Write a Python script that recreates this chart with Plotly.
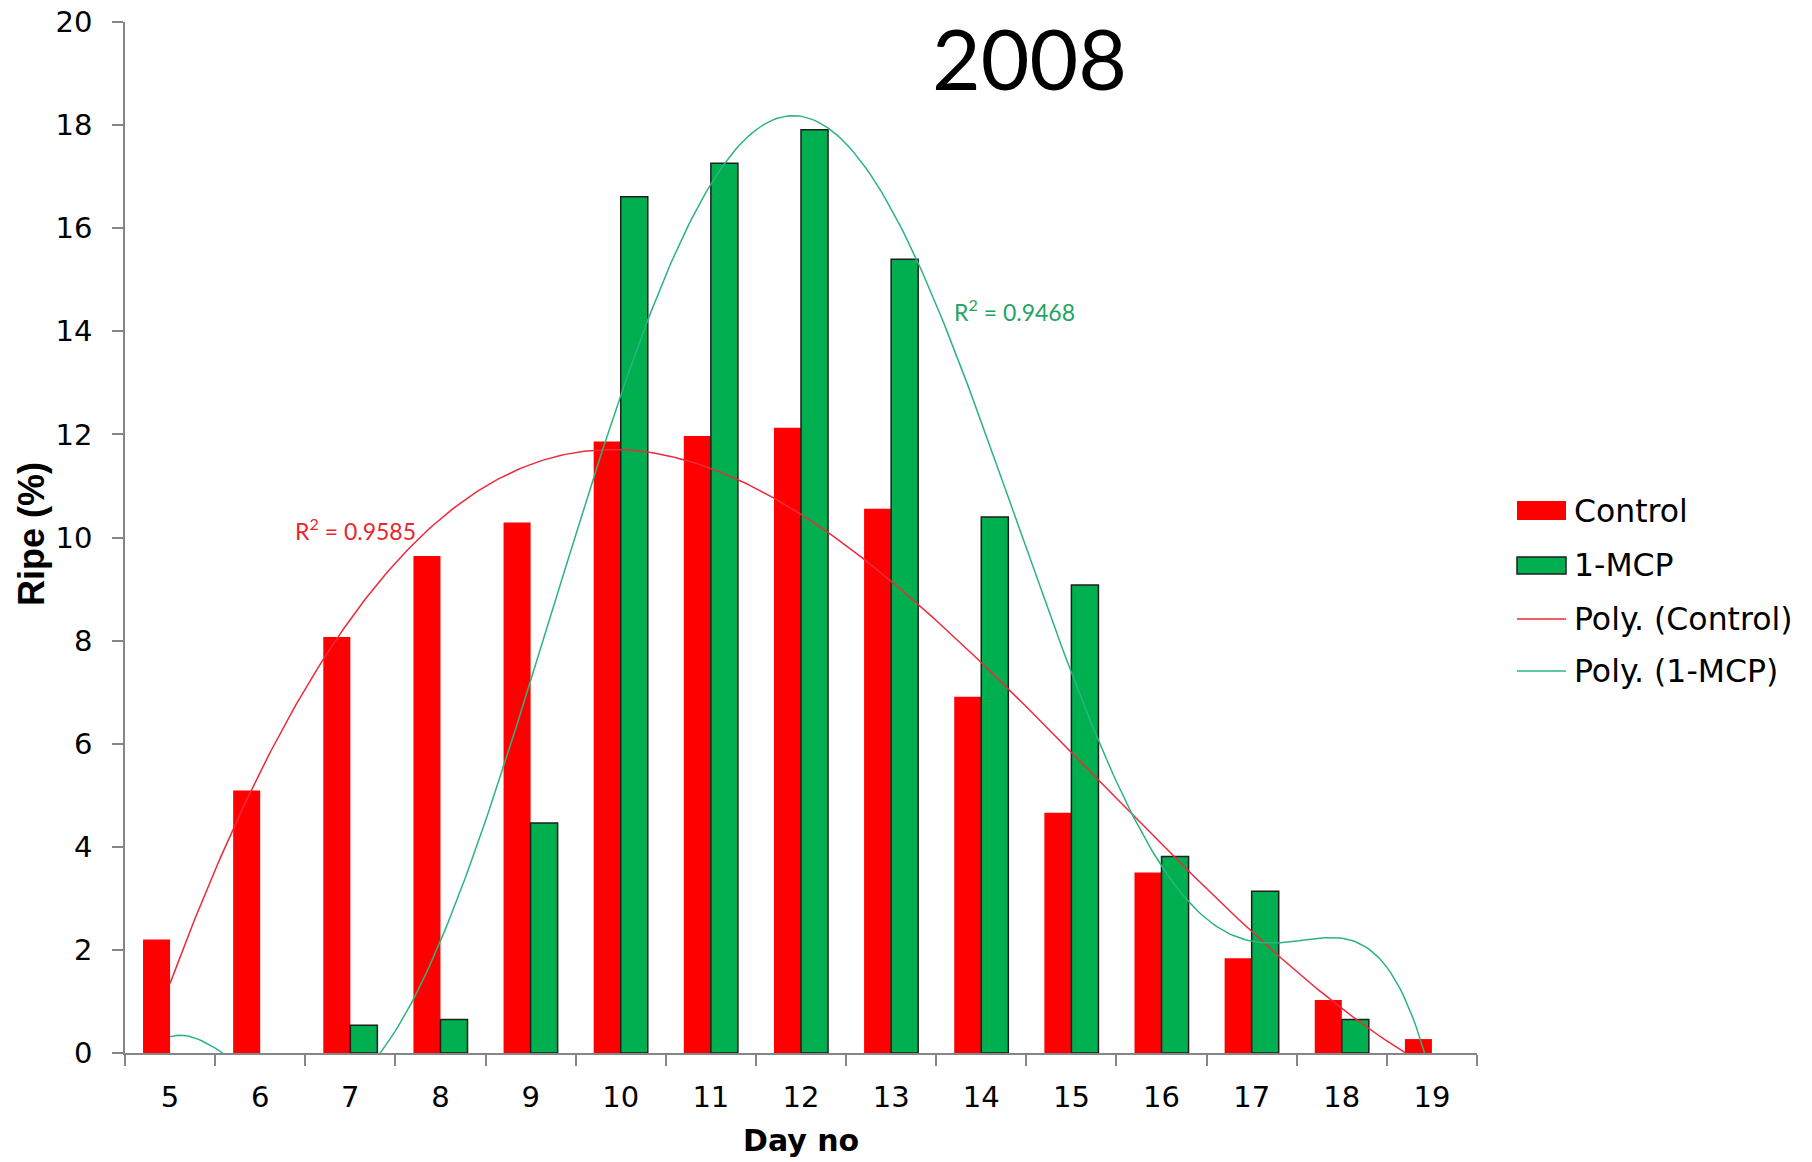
import numpy as np
import plotly.graph_objects as go

# Ripening data, 2008 season
days = [5, 6, 7, 8, 9, 10, 11, 12, 13, 14, 15, 16, 17, 18, 19]
control = [2.20, 5.09, 8.07, 9.64, 10.29, 11.86, 11.97, 12.13, 10.56, 6.91, 4.66, 3.50, 1.84, 1.03, 0.27]
mcp = [0.0, 0.0, 0.54, 0.65, 4.46, 16.61, 17.26, 17.91, 15.40, 10.40, 9.08, 3.81, 3.14, 0.65, 0.0]
r2_control = "0.9585"
r2_mcp = "0.9468"
title_text = "2008"

RED = "#FF0000"
GREEN = "#00B050"
RED_LINE = "#EE2A3A"
GREEN_LINE = "#2DB47E"
AXIS_GREY = "#868686"

W, H = 1812, 1162
L, R, T, B = 125, 1477, 22, 1053  # plot area in pixels


def px_x(px):
    return (px - L) / (R - L)


def px_y(py):
    return (B - py) / (B - T)


# polynomial trendlines fitted to each series
xd = np.array(days, dtype=float)
xs = np.linspace(xd[0], xd[-1], 400)
fit_c = np.polyval(np.polyfit(xd, control, 3), xs)
fit_m = np.polyval(np.polyfit(xd, mcp, 6), xs)

# no outline on empty bars
mcp_outline = [0 if v == 0 else 1.5 for v in mcp]

fig = go.Figure()
fig.add_trace(go.Bar(x=days, y=control, name="Control", marker=dict(color=RED, line=dict(width=0)),
                     showlegend=False))
fig.add_trace(go.Bar(x=days, y=mcp, name="1-MCP",
                     marker=dict(color=GREEN, line=dict(color="#1E1E1E", width=mcp_outline)),
                     showlegend=False))
fig.add_trace(go.Scatter(x=xs, y=fit_c, mode="lines", name="Poly. (Control)",
                         line=dict(color=RED_LINE, width=1.5), showlegend=False))
fig.add_trace(go.Scatter(x=xs, y=fit_m, mode="lines", name="Poly. (1-MCP)",
                         line=dict(color=GREEN_LINE, width=1.5), showlegend=False))

tick_font = dict(family="DejaVu Sans", size=29, color="#000000")

fig.update_layout(
    width=W, height=H,
    margin=dict(l=L, r=W - R, t=T, b=H - B, pad=0, autoexpand=False),
    paper_bgcolor="white", plot_bgcolor="white",
    barmode="group", bargap=0.4, bargroupgap=0,
    showlegend=False,
    xaxis=dict(
        range=[4.5, 19.5], tickmode="array", tickvals=days, ticktext=[str(d) for d in days],
        ticks="", showline=True, linecolor=AXIS_GREY, linewidth=1.5, showgrid=False, zeroline=False,
        tickfont=tick_font, ticklabelstandoff=17, automargin=False,
        minor=dict(tickmode="array", tickvals=[d - 0.5 for d in days] + [days[-1] + 0.5],
                   ticks="outside", ticklen=11, tickcolor=AXIS_GREY, tickwidth=1.5, showgrid=False),
    ),
    yaxis=dict(
        range=[0, 20], tickmode="linear", tick0=0, dtick=2,
        ticks="outside", ticklen=11, tickcolor=AXIS_GREY, tickwidth=1.5,
        showline=True, linecolor=AXIS_GREY, linewidth=1.5, showgrid=False, zeroline=False,
        tickfont=tick_font, ticklabelstandoff=14, automargin=False,
    ),
)

ann = []
# chart title
ann.append(dict(text=title_text, xref="paper", yref="paper", x=px_x(1029), y=px_y(57),
                xanchor="center", yanchor="middle", showarrow=False,
                font=dict(family="Lato", size=84, color="#000000")))
# axis titles
ann.append(dict(text="<b>Day no</b>", xref="paper", yref="paper", x=px_x(801), y=px_y(1140),
                xanchor="center", yanchor="middle", showarrow=False,
                font=dict(family="DejaVu Sans", size=30, color="#000000")))
ann.append(dict(text="<b>Ripe (%)</b>", xref="paper", yref="paper", x=px_x(31), y=px_y(534),
                xanchor="center", yanchor="middle", showarrow=False, textangle=-90,
                font=dict(family="Liberation Sans", size=36, color="#000000")))
# R² labels for the trendlines
ann.append(dict(text="R<sup>2</sup> = " + r2_control, x=7.06, y=10.16, xref="x", yref="y",
                xanchor="center", yanchor="middle", showarrow=False,
                font=dict(family="Lato", size=23, color="#E8262C")))
ann.append(dict(text="R<sup>2</sup> = " + r2_mcp, x=14.37, y=14.41, xref="x", yref="y",
                xanchor="center", yanchor="middle", showarrow=False,
                font=dict(family="Lato", size=23, color="#22A463")))

# legend
shapes = []
leg_x0, leg_x1, txt_x = 1517, 1566, 1572
legend_rows = [("Control", 511), ("1-MCP", 565), ("Poly. (Control)", 619), ("Poly. (1-MCP)", 671)]
shapes.append(dict(type="rect", xref="paper", yref="paper", x0=px_x(leg_x0), x1=px_x(leg_x1),
                   y0=px_y(520), y1=px_y(501), fillcolor=RED, line=dict(width=0)))
shapes.append(dict(type="rect", xref="paper", yref="paper", x0=px_x(leg_x0), x1=px_x(leg_x1),
                   y0=px_y(574), y1=px_y(557), fillcolor=GREEN, line=dict(color="#1E1E1E", width=1.5)))
shapes.append(dict(type="line", xref="paper", yref="paper", x0=px_x(leg_x0), x1=px_x(leg_x1),
                   y0=px_y(619), y1=px_y(619), line=dict(color=RED_LINE, width=1.5)))
shapes.append(dict(type="line", xref="paper", yref="paper", x0=px_x(leg_x0), x1=px_x(leg_x1),
                   y0=px_y(671), y1=px_y(671), line=dict(color=GREEN_LINE, width=1.5)))
for label, yc in legend_rows:
    ann.append(dict(text=label, xref="paper", yref="paper", x=px_x(txt_x), y=px_y(yc),
                    xanchor="left", yanchor="middle", showarrow=False,
                    font=dict(family="DejaVu Sans", size=31.5, color="#000000")))

fig.update_layout(annotations=ann, shapes=shapes)
fig.write_html("out.html")
